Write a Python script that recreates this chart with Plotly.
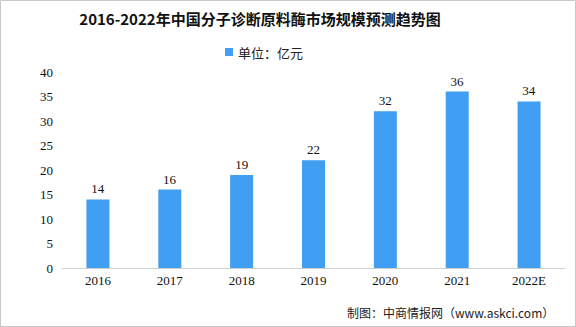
import plotly.graph_objects as go

# Market size of molecular diagnostic raw-material enzymes in China (100M CNY)
years = ["2016", "2017", "2018", "2019", "2020", "2021", "2022E"]
values = [14, 16, 19, 22, 32, 36, 34]
y_ticks = [0, 5, 10, 15, 20, 25, 30, 35, 40]
unit_label = "单位：亿元"

W, H = 576, 327
ML, MR, MT, MB = 62, 11, 72, 59
PW, PH = W - ML - MR, H - MT - MB

BAR = "#409ef3"
SERIF = "Liberation Serif, Times New Roman, serif"
CJK = "Noto Sans CJK SC, sans-serif"

fig = go.Figure()
fig.add_trace(go.Bar(
    x=years, y=values, name=unit_label,
    marker=dict(color=BAR, line=dict(width=0)),
    width=0.32,
    text=[str(v) for v in values], textposition="outside",
    textfont=dict(family=SERIF, size=13, color="#111111"),
    cliponaxis=False,
))


def px_x(p):
    return (p - ML) / PW


def px_y(p):
    return (H - MB - p) / PH


fig.update_layout(
    width=W, height=H,
    margin=dict(l=ML, r=MR, t=MT, b=MB),
    paper_bgcolor="white", plot_bgcolor="white",
    title=dict(text="<b>2016-2022年中国分子诊断原料酶市场规模预测趋势图</b>",
               x=260 / W, xanchor="center", y=1 - 20 / H, yanchor="middle",
               font=dict(family=CJK, size=15, color="#111111")),
    showlegend=False,
    bargap=0.68,
    xaxis=dict(type="category", showgrid=False, showline=True,
               linecolor="#d0d0d0", linewidth=1, ticks="",
               tickfont=dict(family=SERIF, size=13, color="#111111")),
    yaxis=dict(range=[0, 40], tickvals=y_ticks, showgrid=False,
               showline=False, zeroline=False, ticks="",
               ticklabelstandoff=8,
               tickfont=dict(family=SERIF, size=13, color="#111111")),
    annotations=[
        dict(text=unit_label, xref="paper", yref="paper",
             x=px_x(236), y=px_y(52), xanchor="left", yanchor="middle",
             showarrow=False, font=dict(family=CJK, size=13, color="#222222")),
        dict(text="制图：中商情报网（www.askci.com）", xref="paper", yref="paper",
             x=px_x(345), y=px_y(312), xanchor="left", yanchor="middle",
             showarrow=False, font=dict(family=CJK, size=12, color="#222222")),
    ],
    shapes=[
        # legend swatch
        dict(type="rect", xref="paper", yref="paper",
             x0=px_x(225), x1=px_x(233), y0=px_y(56), y1=px_y(48),
             fillcolor=BAR, line=dict(width=0)),
        # outer frame
        dict(type="rect", xref="paper", yref="paper",
             x0=px_x(0.5), x1=px_x(W - 0.5), y0=px_y(H - 0.5), y1=px_y(0.5),
             line=dict(color="#c8c8c8", width=1), layer="below"),
    ],
)

fig.write_html("out.html")
